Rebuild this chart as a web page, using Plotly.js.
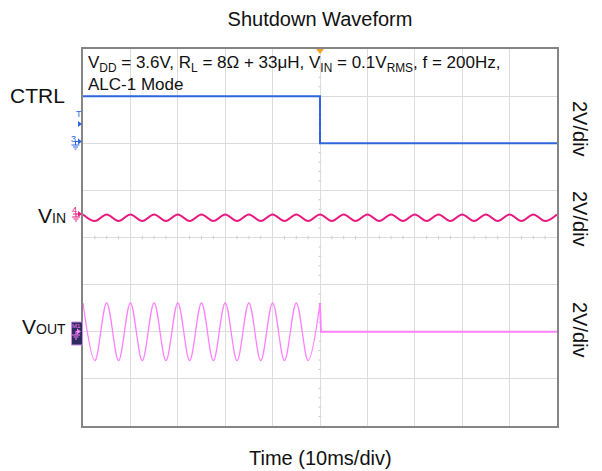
<!DOCTYPE html>
<html>
<head>
<meta charset="utf-8">
<script src="https://cdn.plot.ly/plotly-3.0.1.min.js"></script>
<style>html,body{margin:0;padding:0;background:#fff;}#chart{width:602px;height:471px;}</style>
</head>
<body>
<div id="chart"></div>
<script>
// ---- Data (time in ms, 10 ms/div; voltages in V, 2 V/div) ----
const tCtrl = [-50, 0, 0, 50];
const vCtrl = [2, 2, 0, 0];

const tVin = [-50,-47.5,-45,-42.5,-40,-37.5,-35,-32.5,-30,-27.5,-25,-22.5,-20,-17.5,-15,-12.5,-10,-7.5,-5,-2.5,
              0,2.5,5,7.5,10,12.5,15,17.5,20,22.5,25,27.5,30,32.5,35,37.5,40,42.5,45,47.5,50];
const vVin = [0.14,-0.14,0.14,-0.14,0.14,-0.14,0.14,-0.14,0.14,-0.14,0.14,-0.14,0.14,-0.14,0.14,-0.14,0.14,-0.14,0.14,-0.14,
              0.14,-0.14,0.14,-0.14,0.14,-0.14,0.14,-0.14,0.14,-0.14,0.14,-0.14,0.14,-0.14,0.14,-0.14,0.14,-0.14,0.14,-0.14,0.14];

const tVout = [-50,-47.5,-45,-42.5,-40,-37.5,-35,-32.5,-30,-27.5,-25,-22.5,-20,-17.5,-15,-12.5,-10,-7.5,-5,-2.5,0];
const vVout = [1.22,-1.22,1.22,-1.22,1.22,-1.22,1.22,-1.22,1.22,-1.22,1.22,-1.22,1.22,-1.22,1.22,-1.22,1.22,-1.22,1.22,-1.22,1.22];
const tVoutOff = [0, 0.2, 50];
const vVoutOff = [1.22, 0, 0];

// channel display settings (screen offset in divisions, V/div)
const voltsPerDiv = 2;
const offCtrl = 2, offVin = 0.42, offVout = -2;
const toDiv = (arr, off) => arr.map(v => off + v / voltsPerDiv);

const FONT = 'Liberation Sans, Arial, sans-serif';
const PL = 83, PR = 557, PT = 49, PB = 426;
const px = x => (x - PL) / (PR - PL);
const py = y => (PB - y) / (PB - PT);

const cBlue = '#2f66dd', cVin = '#e8197f', cVout = '#ff80ff';

const traces = [
  {x: tCtrl, y: toDiv(vCtrl, offCtrl), mode: 'lines', line: {color: cBlue, width: 2}, hoverinfo: 'skip'},
  {x: tVin, y: toDiv(vVin, offVin), mode: 'lines', line: {color: cVin, width: 2, shape: 'spline', smoothing: 1}, hoverinfo: 'skip'},
  {x: tVout, y: toDiv(vVout, offVout), mode: 'lines', line: {color: cVout, width: 1.3, shape: 'spline', smoothing: 1}, hoverinfo: 'skip'},
  {x: tVoutOff, y: toDiv(vVoutOff, offVout), mode: 'lines', line: {color: cVout, width: 1.8}, hoverinfo: 'skip'}
];

// center-line minor ticks
const shapes = [];
for (let t = -50; t <= 50; t += 2.5) {
  if (t % 10 === 0) continue;
  shapes.push({type: 'line', xref: 'x', yref: 'y', x0: t, x1: t, y0: -0.035, y1: 0.035, line: {color: '#c4c4c4', width: 1}, layer: 'below'});
}
for (let d = -4; d <= 4; d += 0.2) {
  const r = Math.round(d * 10) / 10;
  if (Math.abs(r - Math.round(r)) < 1e-6) continue;
  shapes.push({type: 'line', xref: 'x', yref: 'y', x0: -0.3, x1: 0.3, y0: r, y1: r, line: {color: '#c4c4c4', width: 1}, layer: 'below'});
}
// helper decorations (channel markers)
function tri(xTip, yc, w, h, col) {
  return {type: 'path', xref: 'paper', yref: 'paper',
    path: `M ${px(xTip - w)},${py(yc - h)} L ${px(xTip)},${py(yc)} L ${px(xTip - w)},${py(yc + h)} Z`,
    fillcolor: col, line: {color: col, width: 0}};
}
function seg(x0, y0, x1, y1, col, w) {
  return {type: 'line', xref: 'paper', yref: 'paper', x0: px(x0), x1: px(x1), y0: py(y0), y1: py(y1), line: {color: col, width: w || 1}};
}
function ground(xc, ytop, col) {
  return [seg(xc, ytop - 4, xc, ytop, col), seg(xc - 4, ytop, xc + 4, ytop, col), seg(xc - 2.5, ytop + 2, xc + 2.5, ytop + 2, col), seg(xc - 1, ytop + 4, xc + 1, ytop + 4, col)];
}
// trigger level (T) and channel 3
shapes.push(tri(82, 124, 4, 3, cBlue));
shapes.push(tri(82, 141.5, 4, 3, cBlue));
shapes.push(seg(75, 141.5, 79, 141.5, cBlue));
shapes.push(...ground(75.5, 145, cBlue));
// channel 4
shapes.push(tri(82, 214, 4, 3, cVin));
shapes.push(seg(73, 214, 79, 214, cVin));
shapes.push(...ground(76, 217, cVin));
// M1 box
shapes.push({type: 'rect', xref: 'paper', yref: 'paper', x0: px(71.5), x1: px(82.5), y0: py(345), y1: py(322), fillcolor: '#2f2b5e', line: {color: '#c58ee0', width: 1}});
shapes.push(tri(81, 331.5, 4, 3, cVout));
shapes.push(seg(76, 331.5, 78, 331.5, cVout));
shapes.push(...ground(76, 335, cVout));
// trigger position (top)
shapes.push({type: 'path', xref: 'paper', yref: 'paper',
  path: `M ${px(316)},${py(49)} L ${px(324)},${py(49)} L ${px(320)},${py(54)} Z`, fillcolor: '#f0a02c', line: {width: 0}});

const sub = s => `<span style="font-size:14px">${s}</span>`;
const annotations = [
  {xref: 'paper', yref: 'paper', x: px(86), y: py(64), xanchor: 'left', yanchor: 'middle', showarrow: false,
   text: 'V<sub>DD</sub> = 3.6V, R<sub>L</sub> = 8Ω + 33μH, V<sub>IN</sub> = 0.1V<sub>RMS</sub>, f = 200Hz,', font: {family: FONT, size: 17, color: '#111'}},
  {xref: 'paper', yref: 'paper', x: px(86), y: py(84), xanchor: 'left', yanchor: 'middle', showarrow: false,
   text: 'ALC-1 Mode', font: {family: FONT, size: 17, color: '#111'}},
  {xref: 'paper', yref: 'paper', x: px(67), y: py(95), xanchor: 'right', yanchor: 'middle', showarrow: false,
   text: 'CTRL', font: {family: FONT, size: 21, color: '#111'}},
  {xref: 'paper', yref: 'paper', x: px(68), y: py(215), xanchor: 'right', yanchor: 'middle', showarrow: false,
   text: 'V' + sub('IN'), font: {family: FONT, size: 21, color: '#111'}},
  {xref: 'paper', yref: 'paper', x: px(68), y: py(326), xanchor: 'right', yanchor: 'middle', showarrow: false,
   text: 'V' + sub('OUT'), font: {family: FONT, size: 21, color: '#111'}},
  {xref: 'paper', yref: 'paper', x: px(580), y: py(129), xanchor: 'center', yanchor: 'middle', showarrow: false, textangle: 90,
   text: '2V/div', font: {family: FONT, size: 20, color: '#111'}},
  {xref: 'paper', yref: 'paper', x: px(580), y: py(219), xanchor: 'center', yanchor: 'middle', showarrow: false, textangle: 90,
   text: '2V/div', font: {family: FONT, size: 20, color: '#111'}},
  {xref: 'paper', yref: 'paper', x: px(580), y: py(330), xanchor: 'center', yanchor: 'middle', showarrow: false, textangle: 90,
   text: '2V/div', font: {family: FONT, size: 20, color: '#111'}},
  {xref: 'paper', yref: 'paper', x: 0.5, y: py(458), xanchor: 'center', yanchor: 'middle', showarrow: false,
   text: 'Time (10ms/div)', font: {family: FONT, size: 20, color: '#111'}},
  // small channel marker labels
  {xref: 'paper', yref: 'paper', x: px(79), y: py(114), xanchor: 'center', yanchor: 'middle', showarrow: false,
   text: 'T', font: {family: FONT, size: 9, color: cBlue}},
  {xref: 'paper', yref: 'paper', x: px(73), y: py(139), xanchor: 'center', yanchor: 'middle', showarrow: false,
   text: '3', font: {family: FONT, size: 9, color: cBlue}},
  {xref: 'paper', yref: 'paper', x: px(74), y: py(210), xanchor: 'center', yanchor: 'middle', showarrow: false,
   text: '4', font: {family: FONT, size: 9, color: cVin}},
  {xref: 'paper', yref: 'paper', x: px(76), y: py(325.5), xanchor: 'center', yanchor: 'middle', showarrow: false,
   text: 'M1', font: {family: FONT, size: 6, color: cVout}}
];

const layout = {
  width: 602, height: 471,
  margin: {l: PL, r: 602 - PR, t: PT, b: 471 - PB, pad: 0},
  paper_bgcolor: '#fff', plot_bgcolor: '#fff',
  showlegend: false,
  title: {text: 'Shutdown Waveform', font: {family: FONT, size: 20, color: '#111'}, x: 0.5, xref: 'paper', xanchor: 'center', y: 1 - 19 / 471, yanchor: 'middle'},
  xaxis: {range: [-50, 50], dtick: 10, tick0: 0, showticklabels: false, ticks: '', zeroline: false,
          showgrid: true, gridcolor: '#dcdcdc', gridwidth: 1, showline: true, mirror: true, linecolor: '#858585', linewidth: 1.6, fixedrange: true},
  yaxis: {range: [-4, 4], dtick: 1, tick0: 0, showticklabels: false, ticks: '', zeroline: false,
          showgrid: true, gridcolor: '#dcdcdc', gridwidth: 1, showline: true, mirror: true, linecolor: '#858585', linewidth: 1.6, fixedrange: true},
  shapes: shapes,
  annotations: annotations
};

Plotly.newPlot('chart', traces, layout, {displayModeBar: false, staticPlot: true});
</script>
</body>
</html>
